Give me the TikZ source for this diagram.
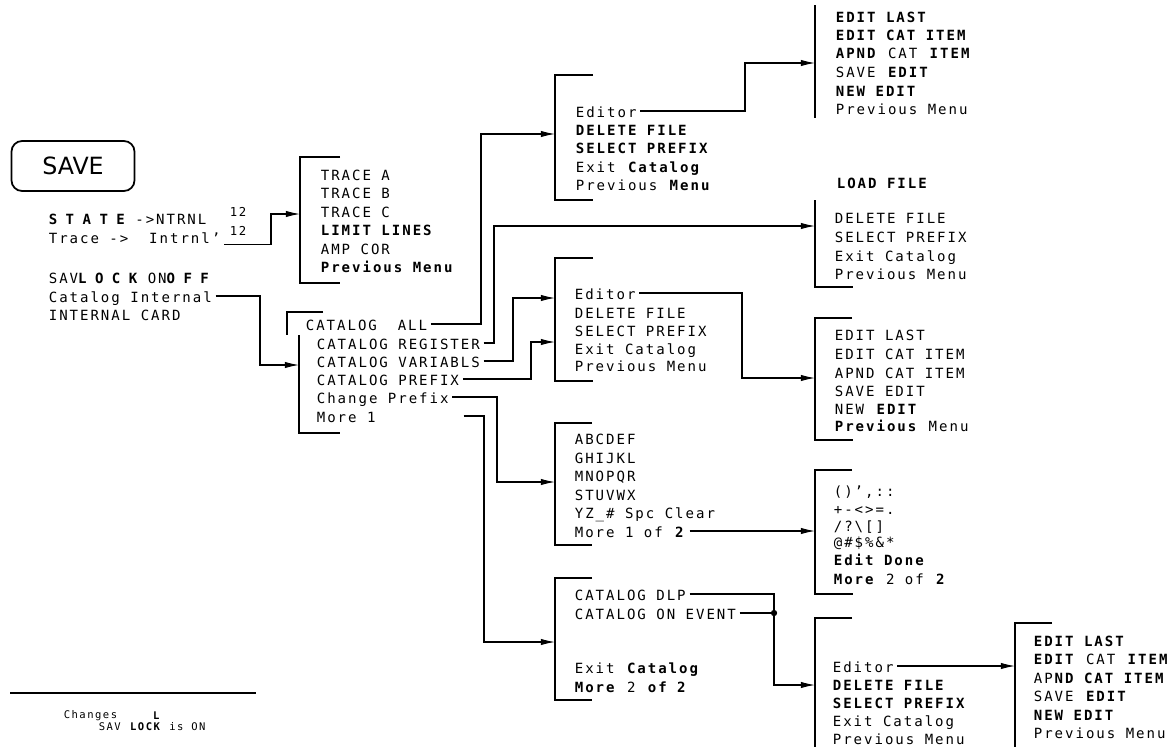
\documentclass[tikz,border=0pt]{standalone}
\usepackage{fontspec}
\setmainfont[LetterSpace=14]{DejaVu Sans Mono}
\newfontfamily\keyfont{DejaVu Sans}
\newcommand{\plotbf}[1]{{\bfseries\addfontfeature{LetterSpace=60}#1}}
\usepackage{tikz}
\usetikzlibrary{arrows.meta}

\begin{document}
\begin{tikzpicture}[x=0.02cm, y=-0.02cm,
      itm/.style={anchor=west, inner xsep=2pt, inner ysep=0pt, text height=1.4ex, text depth=0pt, font=\fontsize{8}{9}\selectfont},
      sup/.style={itm, font=\fontsize{7}{8}\selectfont},
      nt/.style={itm, font=\fontsize{6}{7}\selectfont},
      brk/.style={line width=1.3pt},
      ln/.style={line width=0.6pt},
      arr/.style={ln, -{Latex[length=8pt,width=3.6pt]}}
    ]
    \useasboundingbox (0,0) rectangle (1173,747);

    % left column
    \node[draw, rounded corners=6pt, line width=1pt, minimum width=2.46cm, minimum height=1cm, font=\keyfont\fontsize{13.5}{15}\selectfont] (save) at (73,166) {SAVE};
    \node[itm] (st) at (45,218) {\plotbf{STATE} ->NTRNL};
    \node[itm] (tr) at (45,237) {Trace -> \ Intrnl'};
    \node[sup] (s1) at (226,210) {12};
    \node[sup] (s2) at (226,229) {12};
    \node[itm] (lk) at (45,277) {SAV\plotbf{LOCK} ON\plotbf{OFF}};
    \node[itm] (ci) at (45,296) {Catalog Internal};
    \node[itm] (ic) at (45,314) {INTERNAL CARD};

    % trace menu
    \node[itm] (t1) at (317,174) {TRACE A};
    \node[itm] (t2) at (317,192) {TRACE B};
    \node[itm] (t3) at (317,211) {TRACE C};
    \node[itm] (t4) at (317,229) {\textbf{LIMIT LINES}};
    \node[itm] (t5) at (317,248) {AMP COR};
    \node[itm] (t6) at (317,266) {\textbf{Previous Menu}};

    % catalog menu
    \node[itm] (k1) at (302,324) {CATALOG\ \ ALL};
    \node[itm] (k2) at (313,343) {CATALOG REGISTER};
    \node[itm] (k3) at (313,361) {CATALOG VARIABLS};
    \node[itm] (k4) at (313,379) {CATALOG PREFIX};
    \node[itm] (k5) at (313,397) {Change Prefix};
    \node[itm] (k6) at (313,416) {More 1};

    % editor menus, column 3
    \node[itm] (b1) at (572,111) {Editor};
    \node[itm] (b2) at (572,129) {\textbf{DELETE FILE}};
    \node[itm] (b3) at (572,147) {\textbf{SELECT PREFIX}};
    \node[itm] (b4) at (572,166) {Exit \textbf{Catalog}};
    \node[itm] (b5) at (572,184) {Previous \textbf{Menu}};
    \node[itm] (d1) at (571,293) {Editor};
    \node[itm] (d2) at (571,312) {DELETE FILE};
    \node[itm] (d3) at (571,330) {SELECT PREFIX};
    \node[itm] (d4) at (571,348) {Exit Catalog};
    \node[itm] (d5) at (571,365) {Previous Menu};
    \node[itm] (f1) at (571,438) {ABCDEF};
    \node[itm] (f2) at (571,457) {GHIJKL};
    \node[itm] (f3) at (571,475) {MNOPQR};
    \node[itm] (f4) at (571,494) {STUVWX};
    \node[itm] (f5) at (571,512) {YZ\_\# Spc Clear};
    \node[itm] (f6) at (571,531) {More 1 of \textbf{2}};
    \node[itm] (h1) at (571,594) {CATALOG DLP};
    \node[itm] (h2) at (571,613) {CATALOG ON EVENT};
    \node[itm] (h3) at (571,667) {Exit \textbf{Catalog}};
    \node[itm] (h4) at (571,686) {\textbf{More} 2 \textbf{of 2}};

    % column 4
    \node[itm] (a1) at (832,16) {\textbf{EDIT LAST}};
    \node[itm] (a2) at (832,34) {\textbf{EDIT CAT ITEM}};
    \node[itm] (a3) at (832,52) {\textbf{APND} CAT \textbf{ITEM}};
    \node[itm] (a4) at (832,71) {SAVE \textbf{EDIT}};
    \node[itm] (a5) at (832,90) {\textbf{NEW EDIT}};
    \node[itm] (a6) at (832,108) {Previous Menu};
    \node[itm] (ld) at (833,182) {\textbf{LOAD FILE}};
    \node[itm] (c1) at (831,217) {DELETE FILE};
    \node[itm] (c2) at (831,236) {SELECT PREFIX};
    \node[itm] (c3) at (831,255) {Exit Catalog};
    \node[itm] (c4) at (831,273) {Previous Menu};
    \node[itm] (e1) at (831,334) {EDIT LAST};
    \node[itm] (e2) at (831,353) {EDIT CAT ITEM};
    \node[itm] (e3) at (831,372) {APND CAT ITEM};
    \node[itm] (e4) at (831,390) {SAVE EDIT};
    \node[itm] (e5) at (831,408) {NEW \textbf{EDIT}};
    \node[itm] (e6) at (831,425) {\textbf{Previous} Menu};
    \node[itm] (g1) at (830,490) {()',::};
    \node[itm] (g2) at (830,508) {+-<>=.};
    \node[itm] (g3) at (830,525) {/?\textbackslash[]};
    \node[itm] (g4) at (830,541) {@\#\$\%\&*};
    \node[itm] (g5) at (830,559) {\textbf{Edit Done}};
    \node[itm] (g6) at (830,578) {\textbf{More} 2 of \textbf{2}};
    \node[itm] (i1) at (829,666) {Editor};
    \node[itm] (i2) at (829,684) {\textbf{DELETE FILE}};
    \node[itm] (i3) at (829,702) {\textbf{SELECT PREFIX}};
    \node[itm] (i4) at (829,720) {Exit Catalog};
    \node[itm] (i5) at (829,738) {Previous Menu};

    % column 5
    \node[itm] (j1) at (1030,640) {\textbf{EDIT LAST}};
    \node[itm] (j2) at (1030,658) {\textbf{EDIT} CAT \textbf{ITEM}};
    \node[itm] (j3) at (1030,677) {AP\textbf{ND CAT ITEM}};
    \node[itm] (j4) at (1030,695) {SAVE \textbf{EDIT}};
    \node[itm] (j5) at (1030,714) {\textbf{NEW EDIT}};
    \node[itm] (j6) at (1030,732) {Previous Menu};

    % note
    \node[nt] (cg) at (60,712) {Changes};
    \node[nt] (nb) at (95,724) {SAV \textbf{LOCK} is ON};
    \node[nt, anchor=center] (nl) at (157,713) {\textbf{L}};
    \draw[brk] (10,693) -- (256,693);

    % menu brackets
    \draw[brk] (815,5) -- (815,118);
    \draw[brk] (593,75) -- (555,75) -- (555,200) -- (593,200);
    \draw[brk] (815,200) -- (815,287) -- (853,287);
    \draw[brk] (340,157) -- (300,157) -- (300,283) -- (340,283);
    \draw[brk] (323,312) -- (287,312) -- (287,335);
    \draw[brk] (299,335) -- (299,433) -- (340,433);
    \draw[brk] (593,258) -- (555,258) -- (555,381) -- (593,381);
    \draw[brk] (852,318) -- (815,318) -- (815,440) -- (853,440);
    \draw[brk] (592,423) -- (555,423) -- (555,545) -- (592,545);
    \draw[brk] (852,470) -- (815,470) -- (815,594) -- (853,594);
    \draw[brk] (592,578) -- (555,578) -- (555,700) -- (592,700);
    \draw[brk] (852,618) -- (815,618) -- (815,747);
    \draw[brk] (1052,623) -- (1015,623) -- (1015,747);

    % arrow targets
    \coordinate (tTr) at (300,214);
    \coordinate (tCat) at (299,365);
    \coordinate (tEd1) at (555,134);
    \coordinate (tLd) at (815,226);
    \coordinate (tEd2) at (555,298);
    \coordinate (tEd2b) at (555,342);
    \coordinate (tAb) at (555,482);
    \coordinate (tDlp) at (555,642);
    \coordinate (tEl1) at (815,63);
    \coordinate (tEl2) at (815,378);
    \coordinate (tSym) at (815,531);
    \coordinate (tEd3) at (815,685);
    \coordinate (tEl3) at (1015,666);
    \coordinate (jEv) at (774,613);

    % connectors
    \draw[arr] (tr.south east) -| (271,214) -- (tTr);
    \draw[arr] (ci.east) -| (260,365) -- (tCat);
    \draw[arr] (k1.east) -| (481,134) -- (tEd1);
    \draw[arr] (k2.east) -| (494,226) -- (tLd);
    \draw[arr] (k3.east) -| (513,298) -- (tEd2);
    \draw[arr] (k4.east) -| (531,342) -- (tEd2b);
    \draw[arr] (k5.east) -| (497,482) -- (tAb);
    \draw[arr, shorten <=48pt] (k6.east) -| (484,642) -- (tDlp);
    \draw[arr] (b1.east) -| (745,63) -- (tEl1);
    \draw[arr] (d1.east) -| (742,378) -- (tEl2);
    \draw[arr] (f6.east) -- (tSym);
    \draw[ln] (h1.east) -| (jEv); \draw[ln] (h2.east) -- (jEv);
    \fill (jEv) circle (1.8pt);
    \draw[arr] (jEv) |- (tEd3);
    \draw[arr] (i1.east) -- (tEl3);
  \end{tikzpicture}
\end{document}
